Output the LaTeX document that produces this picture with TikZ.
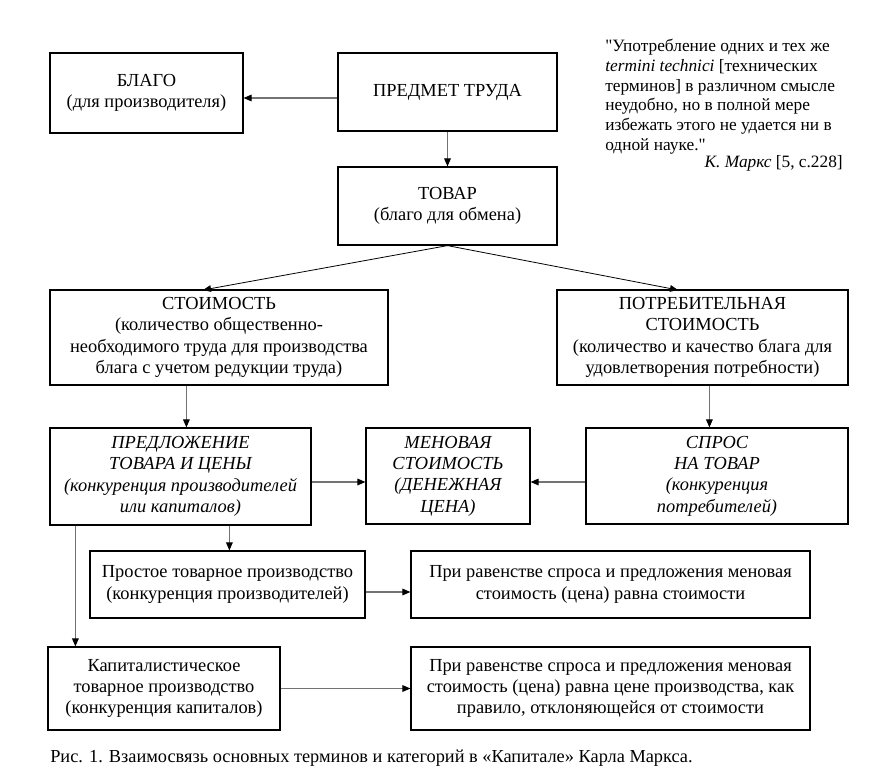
\documentclass[tikz,border=0pt]{standalone}
\usepackage{fontspec}
\setmainfont{Liberation Serif}
\newfontfamily\qfont{Liberation Serif}
\usetikzlibrary{calc,arrows.meta}
\tikzset{
  box/.style={draw, line width=0.9pt, inner sep=0pt, align=center, font=\fontsize{13.8}{16}\selectfont},
  ibox/.style={box, font=\fontsize{13.8}{16}\selectfont\itshape},
  arr/.style={draw=black!55, line width=0.8pt, -{Triangle[length=6pt,width=5pt,fill=black,color=black]}},
  darr/.style={draw=black, line width=0.6pt, -{Triangle[length=6pt,width=5pt,fill=black,color=black]}},
}
\begin{document}
\begin{tikzpicture}[x=0.75pt,y=-0.75pt]
\useasboundingbox (0,0) rectangle (881,784);
\node[box, minimum width=144.75pt, minimum height=60pt] (blago) at (146.5,93) {БЛАГО\\(для производителя)};
\node[box, minimum width=164.25pt, minimum height=58.5pt] (predmet) at (447.5,92) {ПРЕДМЕТ ТРУДА};
\node[box, minimum width=164.25pt, minimum height=58.5pt] (tovar) at (447.5,206) {ТОВАР\\(благо для обмена)};
\node[box, minimum width=253.5pt, minimum height=71.25pt] (stoim) at (219,337.5) {СТОИМОСТЬ\\(количество общественно-\\необходимого труда для производства\\блага с учетом редукции труда)};
\node[box, minimum width=218.25pt, minimum height=71.25pt] (potreb) at (702.5,337.5) {ПОТРЕБИТЕЛЬНАЯ\\СТОИМОСТЬ\\(количество и качество блага для\\удовлетворения потребности)};
\node[ibox, minimum width=195.75pt, minimum height=72.75pt] (predl) at (180.5,476.5) {ПРЕДЛОЖЕНИЕ\\ТОВАРА И ЦЕНЫ\\(конкуренция производителей\\или капиталов)};
\node[ibox, minimum width=123pt, minimum height=72pt] (menov) at (448,476) {МЕНОВАЯ\\СТОИМОСТЬ\\(ДЕНЕЖНАЯ\\ЦЕНА)};
\node[ibox, minimum width=196.5pt, minimum height=72pt] (spros) at (717,476) {СПРОС\\НА ТОВАР\\(конкуренция\\потребителей)};
\node[box, minimum width=206.25pt, minimum height=50.25pt] (prost) at (227.5,584.5) {Простое товарное производство\\(конкуренция производителей)};
\node[box, minimum width=299.25pt, minimum height=50.25pt] (pri1) at (610.5,584.5) {При равенстве спроса и предложения меновая\\стоимость (цена) равна стоимости};
\node[box, minimum width=174pt, minimum height=62.25pt] (kap) at (164,688.5) {Капиталистическое\\товарное производство\\(конкуренция капиталов)};
\node[box, minimum width=299.25pt, minimum height=62.25pt] (pri2) at (610.5,688.5) {При равенстве спроса и предложения меновая\\стоимость (цена) равна цене производства, как\\правило, отклоняющейся от стоимости};
\node[anchor=north west, align=left, inner sep=0pt, font=\fontsize{13}{14.8}\selectfont] (quote) at (605,39)
 {{\qfont"}Употребление одних и тех же\\\textit{termini technici} [технических\\терминов] в различном смысле\\неудобно, но в полной мере\\избежать этого не удается ни в\\одной науке.{\qfont"}};
\node[anchor=base east, inner sep=0pt, font=\fontsize{13}{14.6}\selectfont] (author) at (843,168) {\textit{К. Маркс} [5, с.228]};
\node[anchor=base west, inner sep=0pt, font=\fontsize{13.75}{14}\selectfont] (caption) at (50,762) {Рис. 1. Взаимосвязь основных терминов и категорий в «Капитале» Карла Маркса.};
% connectors
\draw[arr] ($(predmet.west)+(0,6)$) coordinate (a1) -- (a1 -| blago.east);
\draw[arr] (predmet.south) -- (tovar.north);
\coordinate (t1) at (203,290);
\coordinate (t2) at (678,290);
\draw[darr] (tovar.south) -- (t1);
\draw[darr] (tovar.south) -- (t2);
\draw[arr] ($(stoim.south west)+(137,0)$) coordinate (a2) -- (a2 |- predl.north);
\draw[arr] ($(potreb.south west)+(153,0)$) coordinate (a3) -- (a3 |- spros.north);
\draw[arr] ($(predl.east)+(0,5.5)$) coordinate (a4) -- (a4 -| menov.west);
\draw[arr] ($(spros.west)+(0,6)$) coordinate (a5) -- (a5 -| menov.east);
\draw[arr] ($(predl.south west)+(180,0)$) coordinate (a6) -- (a6 |- prost.north);
\draw[arr] ($(predl.south west)+(26,0)$) coordinate (a7) -- (a7 |- kap.north);
\draw[arr] ($(prost.east)+(0,7.5)$) coordinate (a8) -- (a8 -| pri1.west);
\draw[arr] (kap.east) -- (kap.east -| pri2.west);
\end{tikzpicture}
\end{document}
